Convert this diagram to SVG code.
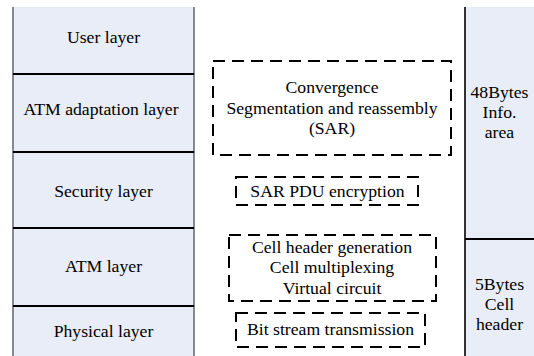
<svg xmlns="http://www.w3.org/2000/svg" width="534" height="356" viewBox="0 0 534 356">
<style>
.t{font-family:'Liberation Serif','DejaVu Serif','Times New Roman',serif;font-size:17.7px;fill:#000;text-anchor:middle}
.cell{fill:#e9edf7;stroke:none}
.vb{stroke:#6e6e6e;stroke-width:1.6;fill:none}
.vbk{stroke:#000;stroke-width:1.6;fill:none}
.hd{stroke:#000;stroke-width:1.8}
.dash{fill:none;stroke:#000;stroke-width:2;stroke-dasharray:12 7}
</style>
<rect width="534" height="356" fill="#fff"/>
<g class="t" font-family="Liberation Serif, DejaVu Serif, serif" font-size="17.7" text-anchor="middle">
<g id="user-layer"><rect class="cell" x="13" y="7" width="181" height="67"/><text x="103.5" y="43">User layer</text></g>
<g id="aal-layer"><rect class="cell" x="13" y="74" width="181" height="78"/><text x="101" y="115">ATM adaptation layer</text></g>
<g id="security-layer"><rect class="cell" x="13" y="152" width="181" height="76"/><text x="103.5" y="197">Security layer</text></g>
<g id="atm-layer"><rect class="cell" x="13" y="228" width="181" height="78"/><text x="103.5" y="272">ATM layer</text></g>
<g id="physical-layer"><rect class="cell" x="13" y="306" width="181" height="50"/><text x="103.5" y="337">Physical layer</text></g>
<g id="left-borders">
<line class="vb" x1="13" y1="7" x2="13" y2="356"/>
<line class="vb" x1="194" y1="7" x2="194" y2="356"/>
<line class="hd" x1="13" y1="74" x2="194" y2="74"/>
<line class="hd" x1="13" y1="152" x2="194" y2="152"/>
<line class="hd" x1="13" y1="228" x2="194" y2="228"/>
<line class="hd" x1="13" y1="306" x2="194" y2="306"/>
</g>
<g id="info-area"><rect class="cell" x="465" y="7" width="69" height="232"/><text><tspan x="499.5" y="98">48Bytes</tspan><tspan x="499.5" y="118">Info.</tspan><tspan x="499.5" y="138">area</tspan></text></g>
<g id="cell-header"><rect class="cell" x="465" y="239" width="69" height="117"/><text><tspan x="499.5" y="290">5Bytes</tspan><tspan x="499.5" y="310">Cell</tspan><tspan x="499.5" y="330">header</tspan></text></g>
<g id="right-borders">
<line class="vbk" x1="465" y1="7" x2="465" y2="356"/>
<line class="hd" x1="465" y1="239" x2="534" y2="239"/>
</g>
<g id="sar-func"><rect class="dash" x="213" y="61" width="238" height="94"/><text><tspan x="332" y="93">Convergence</tspan><tspan x="332" y="114">Segmentation and reassembly</tspan><tspan x="332" y="134">(SAR)</tspan></text></g>
<g id="encryption-func"><rect class="dash" x="236" y="177" width="182" height="28"/><text x="327.5" y="197">SAR PDU encryption</text></g>
<g id="atm-func"><rect class="dash" x="229" y="235" width="207" height="66"/><text><tspan x="332" y="253">Cell header generation</tspan><tspan x="332" y="273">Cell multiplexing</tspan><tspan x="332" y="294">Virtual circuit</tspan></text></g>
<g id="phy-func"><rect class="dash" x="236" y="313" width="189" height="34"/><text x="330.5" y="335">Bit stream transmission</text></g>
</g>
<g id="connectors"></g>
</svg>
